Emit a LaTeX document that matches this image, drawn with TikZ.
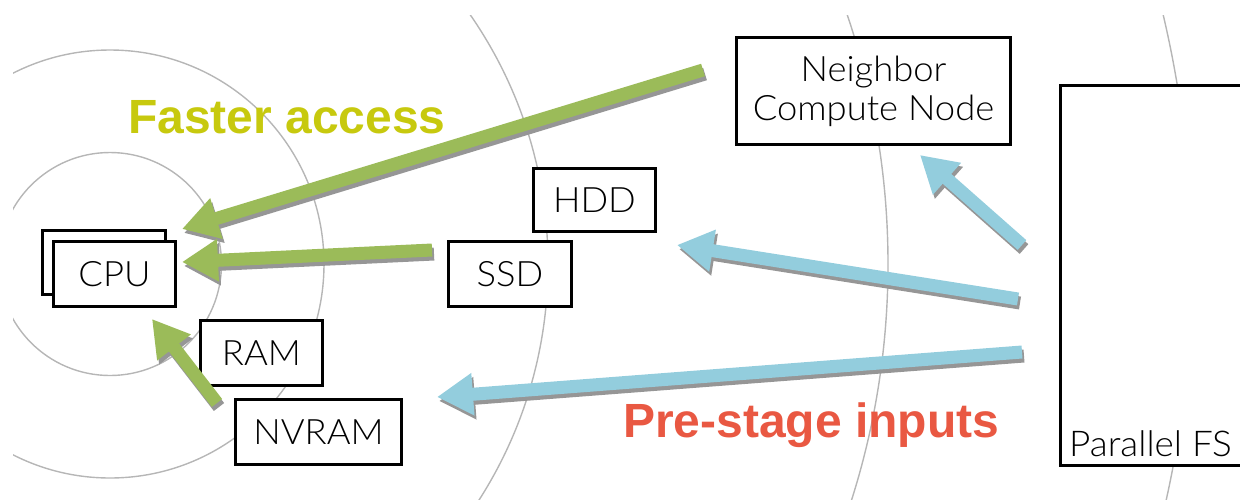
\documentclass[tikz,border=0pt]{standalone}
\usepackage{fontspec}
\setmainfont{Liberation Sans}
\newfontfamily\boxfont{Lato Light}[FakeStretch=1.04]
\usetikzlibrary{arrows.meta}
\definecolor{ringgray}{RGB}{182,182,182}
\definecolor{agreen}{RGB}{155,187,89}
\definecolor{ablue}{RGB}{147,205,221}
\definecolor{shadowgray}{RGB}{150,150,150}
\definecolor{fastc}{RGB}{199,201,14}
\definecolor{prec}{RGB}{233,88,66}
\begin{document}
\begin{tikzpicture}[x=1pt,y=-1pt,
  ring/.style={draw=ringgray,line width=1.4pt},
  box/.style={draw,line width=3pt,fill=white,inner sep=0pt,
    font=\boxfont\fontsize{35}{39}\selectfont,align=center},
  fat/.style={line width=13pt,-{Triangle[length=36pt,width=40pt]}},
  shadow/.style={fat,draw=shadowgray,transform canvas={xshift=2pt,yshift=-4pt}},
  bigtxt/.style={font=\bfseries\fontsize{48}{54}\selectfont,inner sep=0pt,anchor=base west}]
\useasboundingbox (0,0) rectangle (1240,499);
\clip (0,0) rectangle (1240,499);
% rings
\begin{scope}
  \clip (13,15) rectangle (1240,499);
  \coordinate (c0) at (110,264);
  \draw[ring] (c0) circle[radius=111.5pt];
  \draw[ring] (c0) circle[radius=214pt];
  \draw[ring] (c0) circle[radius=438pt];
  \draw[ring] (c0) circle[radius=778pt];
  \draw[ring] (c0) circle[radius=1082pt];
\end{scope}
% texts
\node[bigtxt,text=fastc] (fast) at (128,133) {Faster access};
\node[bigtxt,text=prec] (pre) at (623,437) {Pre-stage inputs};
% boxes
\node[box,minimum width=123pt,minimum height=64pt] (cpub) at (104,262.5) {};
\node[box,minimum width=122pt,minimum height=65pt] (cpu) at (114.5,274) {CPU};
\node[box,minimum width=122pt,minimum height=65pt] (ram) at (261.5,353) {RAM};
\node[box,minimum width=166pt,minimum height=65pt] (nvram) at (318.5,432) {NVRAM};
\node[box,minimum width=123pt,minimum height=65pt] (ssd) at (510,274) {SSD};
\node[box,minimum width=122pt,minimum height=63pt] (hdd) at (594.5,200) {HDD};
\node[box,minimum width=274pt,minimum height=107pt] (nb) at (873.5,91) {Neighbor\\Compute Node};
\node[box,anchor=north west,minimum width=240pt,minimum height=380pt] (pfs) at (1058.5,83.5) {};
\node[font=\boxfont\fontsize{35.5}{39}\selectfont,inner sep=0pt,anchor=base west] (pfsl) at (1069,456) {Parallel FS};
% arrow ends
\coordinate (g1s) at (703,70);   \coordinate (g1e) at (182,229);
\coordinate (g2s) at (432,250);  \coordinate (g2e) at (182,262);
\coordinate (g3s) at (217,403);  \coordinate (g3e) at (152,319);
\coordinate (b1s) at (1022,245); \coordinate (b1e) at (920,155);
\coordinate (b2s) at (1018,299); \coordinate (b2e) at (677,245);
\coordinate (b3s) at (1022,352); \coordinate (b3e) at (437,397);
% shadows
\foreach \s/\e in {g1s/g1e,g2s/g2e,g3s/g3e,b1s/b1e,b2s/b2e,b3s/b3e}
  \draw[shadow] (\s) -- (\e);
% arrows
\foreach \s/\e in {g1s/g1e,g2s/g2e,g3s/g3e}
  \draw[fat,draw=agreen,fill=agreen] (\s) -- (\e);
\foreach \s/\e in {b1s/b1e,b2s/b2e,b3s/b3e}
  \draw[fat,draw=ablue,fill=ablue] (\s) -- (\e);
\end{tikzpicture}
\end{document}
